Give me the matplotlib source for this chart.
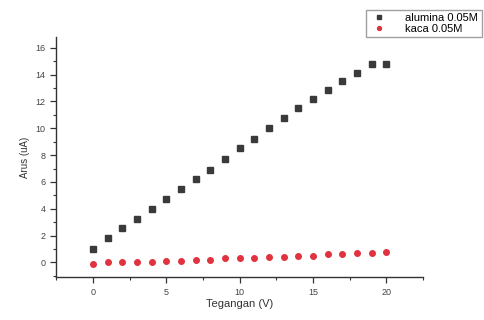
import matplotlib
matplotlib.use('Agg')
import matplotlib.pyplot as plt
from matplotlib.ticker import MultipleLocator

plt.rcParams['font.family'] = ['Liberation Sans', 'DejaVu Sans']

tegangan = list(range(21))
alumina = [1.0, 1.8, 2.55, 3.25, 3.95, 4.75, 5.45, 6.25, 6.9, 7.7, 8.5,
           9.2, 10.0, 10.8, 11.5, 12.2, 12.85, 13.5, 14.15, 14.8, 14.8]
kaca = [-0.1, 0.0, 0.0, 0.0, 0.0, 0.1, 0.1, 0.2, 0.2, 0.3, 0.3,
        0.3, 0.4, 0.4, 0.5, 0.5, 0.6, 0.6, 0.7, 0.7, 0.8]

fig = plt.figure(figsize=(4.84, 3.2), dpi=100)
ax = fig.add_axes([0.116, 0.134, 0.758, 0.75])

ax.plot(tegangan, alumina, 's', color='#3a3a3a', markersize=4, label='alumina 0.05M')
ax.plot(tegangan, kaca, 'o', color='#e0323f', markersize=4, label='kaca 0.05M')

ax.set_xlim(-2.5, 22.5)
ax.set_ylim(-1.1, 16.8)
ax.xaxis.set_major_locator(MultipleLocator(5))
ax.xaxis.set_minor_locator(MultipleLocator(2.5))
ax.yaxis.set_major_locator(MultipleLocator(2))
ax.yaxis.set_minor_locator(MultipleLocator(1))

for s in ['top', 'right']:
    ax.spines[s].set_visible(False)
for s in ['left', 'bottom']:
    ax.spines[s].set_color('#333333')
    ax.spines[s].set_linewidth(1.0)

ax.tick_params(which='major', direction='out', length=4, width=0.9,
               colors='#333333', labelsize=6.5, labelcolor='#444444')
ax.tick_params(which='minor', direction='out', length=2.5, width=0.8, colors='#333333')

ax.set_xlabel('Tegangan (V)', fontsize=8, color='#333333', labelpad=2)
ax.set_ylabel('Arus (uA)', fontsize=7, color='#333333', labelpad=4)

fig.legend(loc='upper right', bbox_to_anchor=(0.995, 0.97), fontsize=8,
           frameon=True, fancybox=False, edgecolor='#888888', borderpad=0.3,
           borderaxespad=0, handletextpad=1.6, labelspacing=0.1,
           handlelength=1.6, markerscale=0.7)

fig.savefig('out.png', dpi=100)
